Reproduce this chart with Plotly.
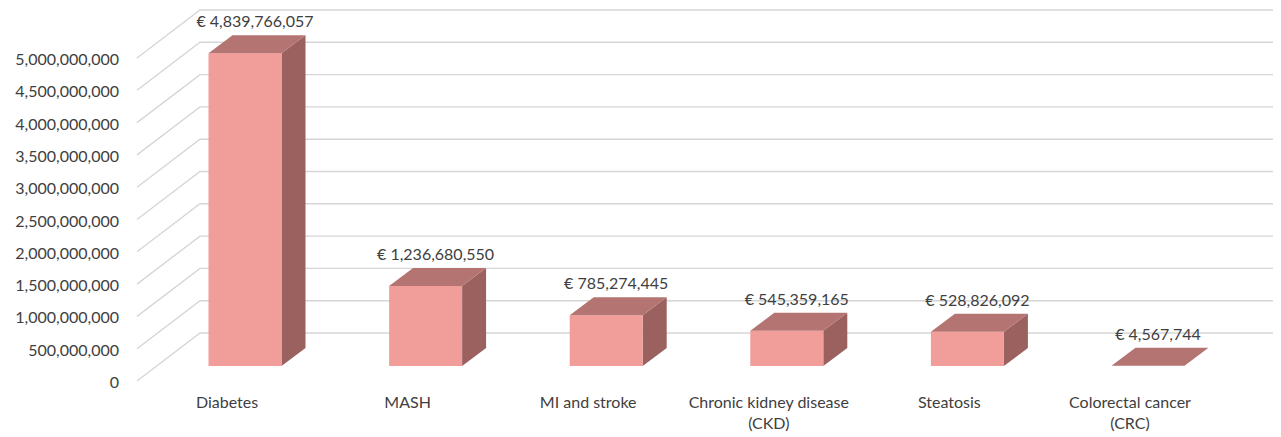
import plotly.graph_objects as go

# ---------------- data ----------------
categories = ["Diabetes", "MASH", "MI and stroke", "Chronic kidney disease<br>(CKD)",
              "Steatosis", "Colorectal cancer<br>(CRC)"]
costs = [4839766057, 1236680550, 785274445, 545359165, 528826092, 4567744]
tick_values = [0, 500000000, 1000000000, 1500000000, 2000000000, 2500000000,
               3000000000, 3500000000, 4000000000, 4500000000, 5000000000]
tick_labels = [f"{v:,}" for v in tick_values]
value_labels = [f"€ {v:,}" for v in costs]

# ---------------- styling / geometry (3D look) ----------------
PAGE_PAD = 8              # default body margin of the html page
PX_X = 180.6              # pixels per category unit
PX_Y = 64.6 / 1e9         # pixels per euro
W, H = 1281 - PAGE_PAD, 437 - PAGE_PAD
X0_PX, Y0_PX = 245 - PAGE_PAD, 366 - PAGE_PAD   # category 0 / value 0 (bar front plane)

def dx(px):
    return px / PX_X

def dy(px):
    return px / PX_Y

BAR_W = dx(73)                       # front face width
DEPTH_X, DEPTH_Y = dx(24), dy(18)    # bar depth offset
FRONT_X, FRONT_Y = dx(-20), dy(-15)  # front (label) plane offset
WALL_X, WALL_Y = dx(43), dy(33)      # back wall offset
WALL_LEFT = dx(157 - 245)            # left edge of the floor/wall at bar plane

x_range = [-X0_PX / PX_X, (W - X0_PX) / PX_X]
y_range = [(Y0_PX - H) / 64.6 * 1e9, Y0_PX / 64.6 * 1e9]

FRONT_C = "#F19E9B"
TOP_C = "#B47472"
SIDE_C = "#9A615F"
GRID_C = "#D6D6D6"
TEXT_C = "#404040"
FONT = "Lato"

fig = go.Figure()

# gridlines: diagonal on the side, horizontal on the back wall
gx, gy = [], []
for v in tick_values:
    gx += [WALL_LEFT + FRONT_X, WALL_LEFT + WALL_X, x_range[1], None]
    gy += [v + FRONT_Y, v + WALL_Y, v + WALL_Y, None]
fig.add_trace(go.Scatter(x=gx, y=gy, mode="lines", line=dict(color=GRID_C, width=1.4),
                         hoverinfo="skip", showlegend=False))

# bar faces
fx, fy, tx, ty, sx, sy = [], [], [], [], [], []
for i, v in enumerate(costs):
    l, r = i - BAR_W / 2, i + BAR_W / 2
    fx += [l, r, r, l, l, None]
    fy += [0, 0, v, v, 0, None]
    tx += [l, r, r + DEPTH_X, l + DEPTH_X, l, None]
    ty += [v, v, v + DEPTH_Y, v + DEPTH_Y, v, None]
    sx += [r, r + DEPTH_X, r + DEPTH_X, r, r, None]
    sy += [0, DEPTH_Y, v + DEPTH_Y, v, 0, None]

for xs, ys, c in [(sx, sy, SIDE_C), (fx, fy, FRONT_C), (tx, ty, TOP_C)]:
    fig.add_trace(go.Scatter(x=xs, y=ys, mode="lines", fill="toself", fillcolor=c,
                             line=dict(width=0, color=c), hoverinfo="skip", showlegend=False))

# value labels
fig.add_trace(go.Scatter(
    x=[i + DEPTH_X / 2 - dx(2) for i in range(len(costs))],
    y=[v + DEPTH_Y + dy(12) for v in costs],
    mode="text", text=value_labels, textposition="middle center",
    textfont=dict(family=FONT, size=16, color=TEXT_C),
    hoverinfo="skip", showlegend=False))

# category labels
fig.add_trace(go.Scatter(
    x=[i + FRONT_X + dx(2) for i in range(len(categories))],
    y=[dy(-30)] * len(categories),
    mode="text", text=categories, textposition="bottom center",
    textfont=dict(family=FONT, size=16, color=TEXT_C),
    hoverinfo="skip", showlegend=False))

# y tick labels (front plane)
fig.add_trace(go.Scatter(
    x=[WALL_LEFT + FRONT_X - dx(18)] * len(tick_values),
    y=[v + FRONT_Y - dy(3) for v in tick_values],
    mode="text", text=tick_labels, textposition="middle left",
    textfont=dict(family=FONT, size=16, color=TEXT_C),
    hoverinfo="skip", showlegend=False))

fig.update_layout(
    width=W, height=H,
    margin=dict(l=0, r=0, t=0, b=0),
    paper_bgcolor="white", plot_bgcolor="white",
    xaxis=dict(range=x_range, visible=False, fixedrange=True),
    yaxis=dict(range=y_range, visible=False, fixedrange=True),
    showlegend=False,
)

fig.write_html("out.html")
